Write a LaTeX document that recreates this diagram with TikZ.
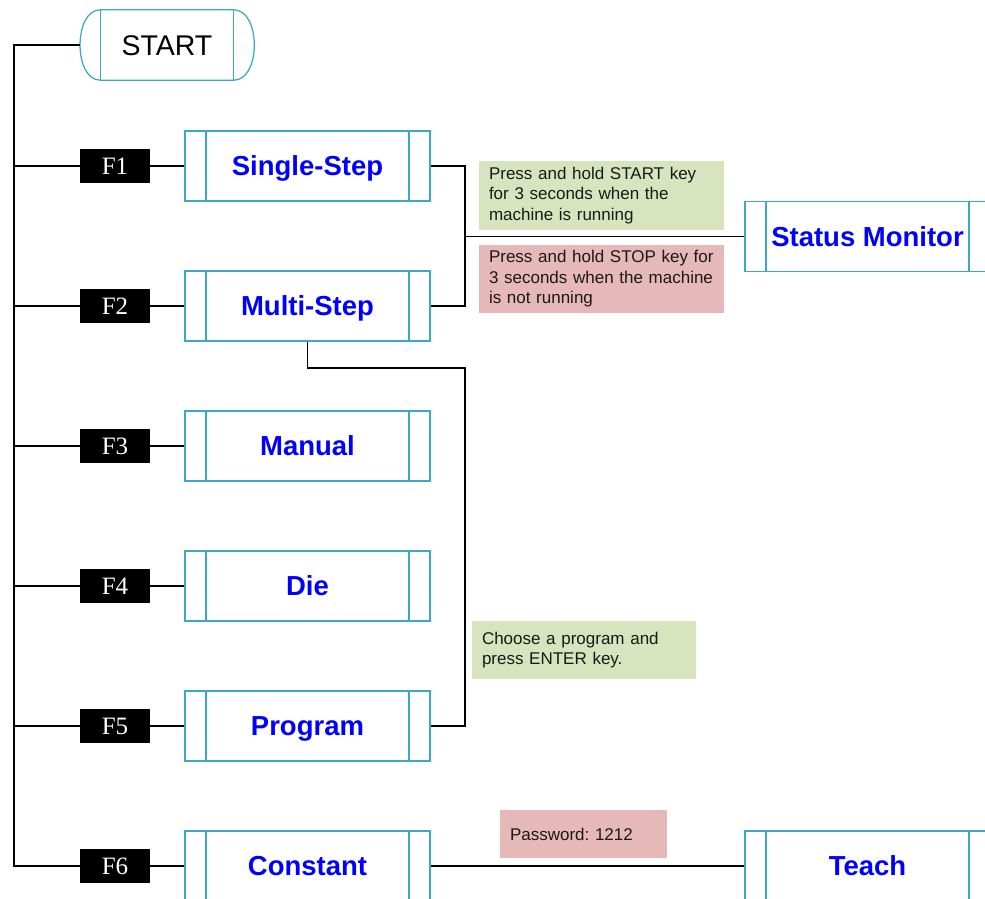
\documentclass[tikz,border=0pt]{standalone}
\usepackage{fontspec}
\setmainfont{Liberation Sans}
\newfontfamily\serifF{Liberation Serif}
\usetikzlibrary{calc}
\definecolor{boxteal}{RGB}{60,168,195}
\definecolor{notegreen}{RGB}{215,228,189}
\definecolor{notered}{RGB}{230,185,184}
\definecolor{txtblue}{RGB}{0,0,255}
\frenchspacing
\begin{document}
\begin{tikzpicture}[x=1pt,y=-1pt,
 conn/.style={draw=black, line width=1.25pt},
 procbox/.style={draw=boxteal, line width=1.25pt, minimum width=245pt, minimum height=70pt, inner sep=0pt,
   text height=19.7pt, text depth=0pt,
   font=\fontsize{27.5}{30}\selectfont\bfseries, text=txtblue,
   path picture={\draw[boxteal, line width=1.25pt]
     ([xshift=21pt]path picture bounding box.north west) -- ([xshift=21pt]path picture bounding box.south west)
     ([xshift=-21pt]path picture bounding box.north east) -- ([xshift=-21pt]path picture bounding box.south east);}},
 fkey/.style={fill=black, text=white, minimum width=70pt, minimum height=34pt, inner sep=0pt,
   text height=16.5pt, text depth=0pt,
   font=\serifF\fontsize{25}{28}\selectfont},
 note/.style={inner xsep=10pt, inner ysep=0pt, align=left, font=\fontsize{17}{20.5}\selectfont, text=black!90}
]
\useasboundingbox (0,0) rectangle (985,898);
\clip (0,0) rectangle (985,898);

% START terminator
\node[font=\fontsize{28.5}{30}\selectfont, minimum width=133pt, minimum height=70pt, inner sep=0pt,
  text height=20.4pt, text depth=0pt] (start) at (167,45) {START};
\draw[boxteal, line width=1.25pt] (start.north west) -- (start.north east)
  .. controls +(27.5,0) and +(27.5,0) .. (start.south east) -- (start.south west)
  .. controls +(-27,0) and +(-27,0) .. (start.north west);
\draw[boxteal, line width=1.25pt] (start.north west) -- (start.south west)
  (start.north east) -- (start.south east);
\coordinate (startL) at ([xshift=-20pt]start.west);

% process boxes
\node[procbox] (p1) at (307.5,166) {Single-Step};
\node[procbox] (p2) at (307.5,306) {Multi-Step};
\node[procbox] (p3) at (307.5,446) {Manual};
\node[procbox] (p4) at (307.5,586) {Die};
\node[procbox] (p5) at (307.5,726) {Program};
\node[procbox] (p6) at (307.5,866) {Constant};
\node[procbox] (sm) at (867.5,236.5) {Status Monitor};
\node[procbox] (teach) at (867.5,866) {Teach};

% function keys
\node[fkey] (f1) at (115,166) {F1};
\node[fkey] (f2) at (115,306) {F2};
\node[fkey] (f3) at (115,446) {F3};
\node[fkey] (f4) at (115,586) {F4};
\node[fkey] (f5) at (115,726) {F5};
\node[fkey] (f6) at (115,866) {F6};

% trunk
\coordinate (trunkTop) at (14,45);
\coordinate (trunkBot) at (14,866);
\draw[conn] (startL) -- (trunkTop) -- (trunkBot) -- (f6.west);
\foreach \i in {1,...,5} {
  \draw[conn] (trunkTop |- f\i.west) -- (f\i.west);
}
\foreach \i in {1,...,6} {
  \draw[conn] (f\i.east) -- (p\i.west);
}

% junctions
\coordinate (jA) at (465,236.5);
\coordinate (jB) at (465,368);
\draw[conn] (p1.east) -- (jA |- p1.east) -- (jA |- p2.east) -- (p2.east);
\draw[conn] (jA) -- (sm.west);
\draw[conn] (p2.south) -- (p2.south |- jB) -- (jB) -- (jB |- p5.east) -- (p5.east);
\draw[conn] (p6.east) -- (teach.west);

% notes
\node[note, fill=notegreen, text width=225pt, minimum height=69pt] (n1) at (601.5,195.5)
  {Press and hold START key\\for 3 seconds when the\\machine is running};
\node[note, fill=notered, text width=225pt, minimum height=68pt] (n2) at (601.5,279)
  {Press and hold STOP key for\\3 seconds when the machine\\is not running};
\node[note, fill=notegreen, text width=204pt, minimum height=58pt] (n3) at (584,650)
  {Choose a program and\\press ENTER key.};
\node[note, fill=notered, text width=147pt, minimum height=48pt] (pw) at (583.5,834)
  {Password: 1212};
\end{tikzpicture}
\end{document}
